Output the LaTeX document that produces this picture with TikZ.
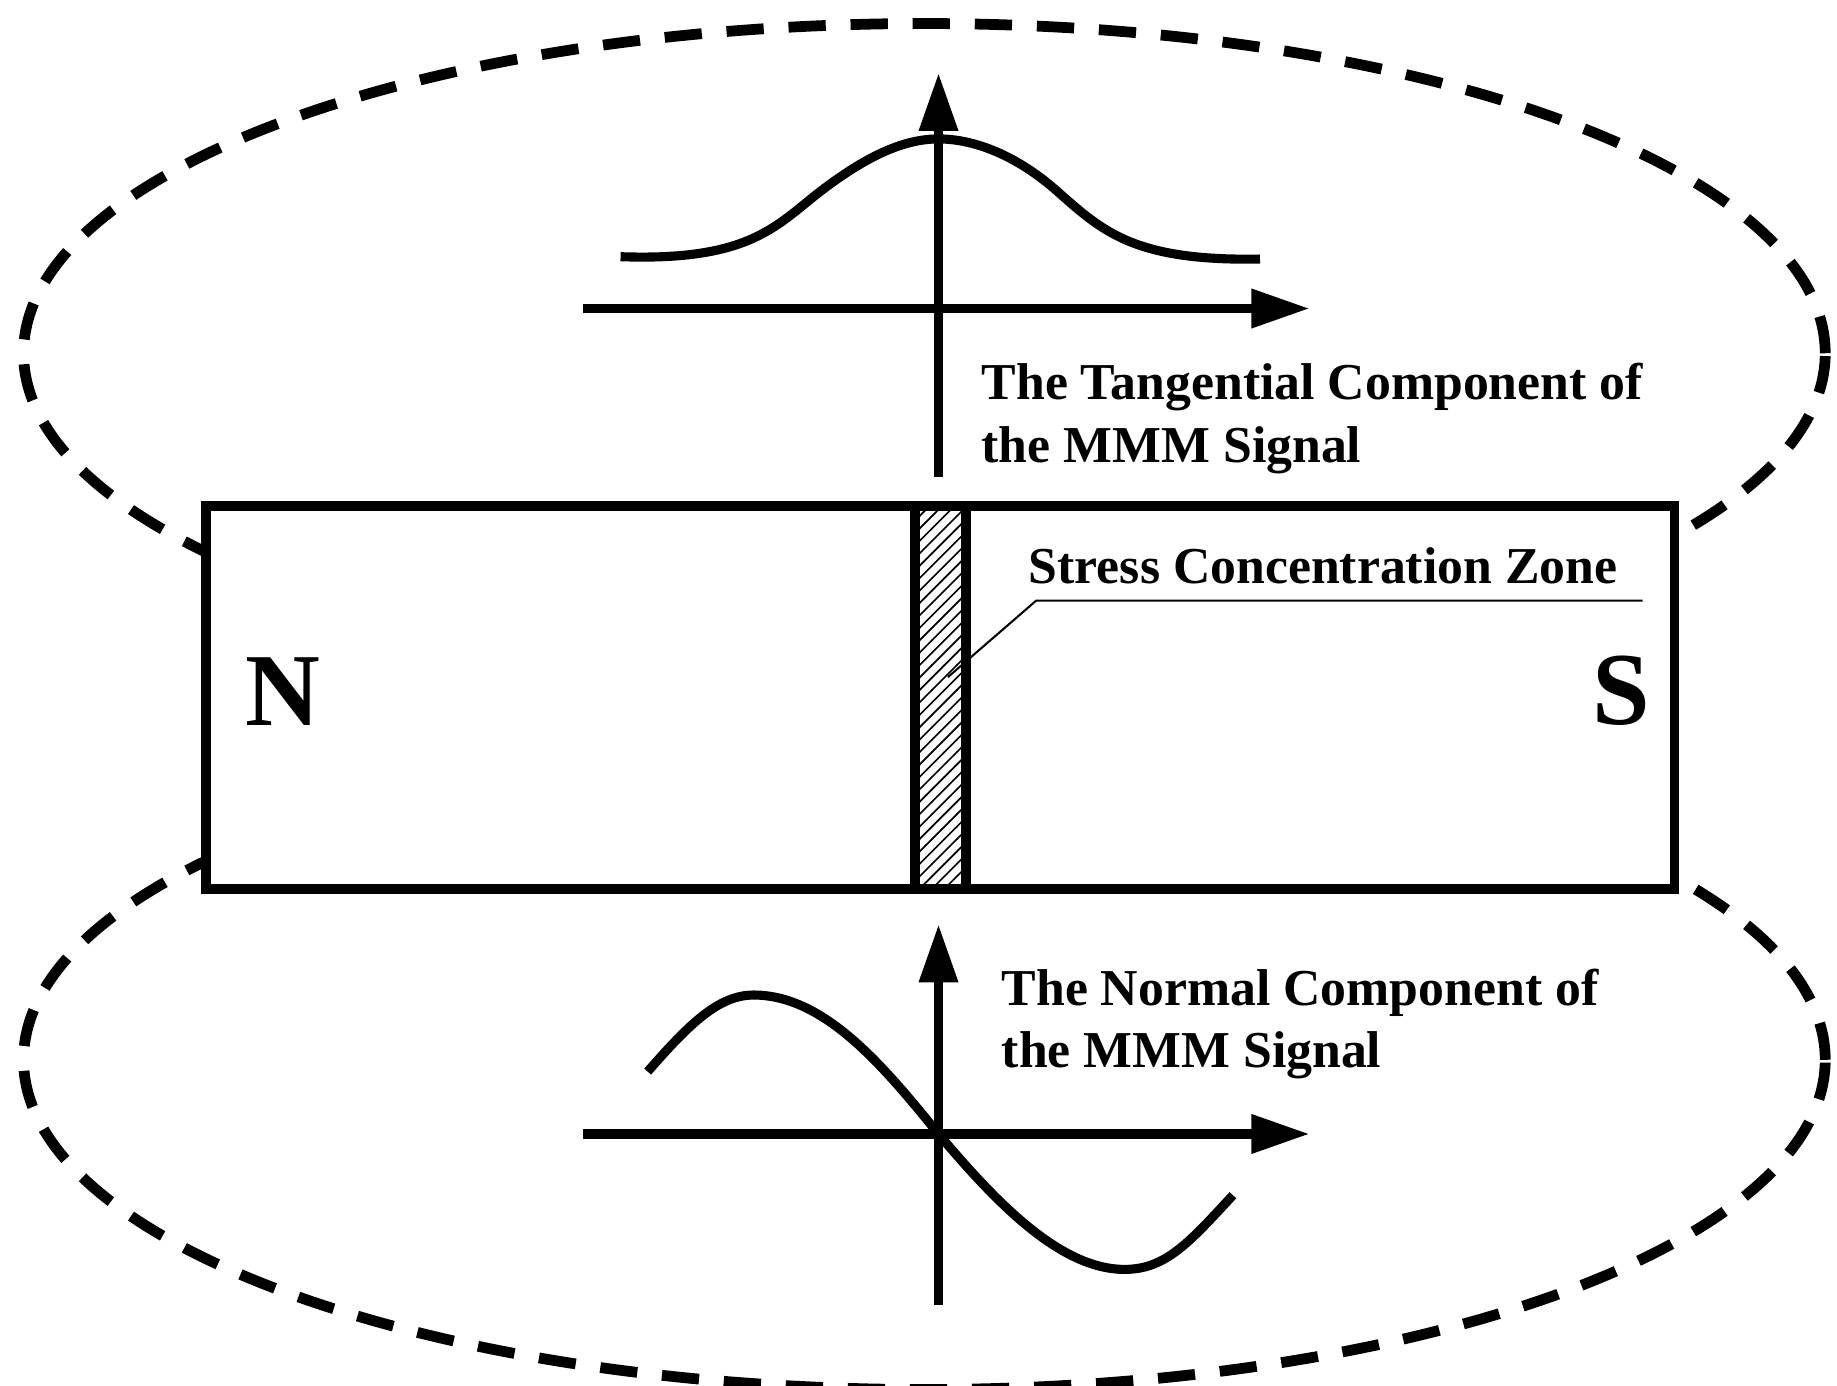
\documentclass[tikz,border=0pt]{standalone}
\usepackage{fontspec}
\setmainfont{Liberation Serif}
\usetikzlibrary{arrows.meta,patterns}
\begin{document}
\begin{tikzpicture}[x=0.01cm,y=-0.01cm,
  axis/.style={line width=2.2pt,-{Triangle[length=14pt,width=9pt]}},
  curve/.style={line width=2.2pt},
  field/.style={line width=2.6pt,dash pattern=on 9pt off 6pt},
  lbl/.style={font=\bfseries\fontsize{12.5}{15}\selectfont,align=left,anchor=north west,inner sep=0pt}]
\useasboundingbox (0,0) rectangle (1560,1177);
\draw[field] (785,300) ellipse [x radius=765,y radius=-280];
\draw[field] (785,900) ellipse [x radius=765,y radius=-280];
\draw[line width=2.4pt,fill=white] (175,430) rectangle (1422,755);
\fill[pattern=north east lines] (777,432) rectangle (820,753);
\draw[line width=2.4pt] (777,430) -- (777,755) (820,430) -- (820,755);
\node[font=\bfseries\fontsize{25}{30}\selectfont] (N) at (240,587) {N};
\node[font=\bfseries\fontsize{25}{30}\selectfont] (S) at (1377,587) {S};
% top axes
\coordinate (t0) at (797,405); \coordinate (t1) at (797,62);
\coordinate (h0) at (495,262); \coordinate (h1) at (1112,262);
\draw[axis] (t0) -- (t1);
\draw[axis] (h0) -- (h1);
\draw[curve] (527,218) .. controls (640,222) and (660,190) .. (700,160) .. controls (740,130) and (770,118) .. (797,118) .. controls (825,118) and (860,130) .. (895,160) .. controls (935,195) and (960,222) .. (1070,220);
% bottom axes
\coordinate (b0) at (797,1108); \coordinate (b1) at (797,785);
\coordinate (g0) at (495,963); \coordinate (g1) at (1112,963);
\draw[axis] (b0) -- (b1);
\draw[axis] (g0) -- (g1);
\draw[curve] (550,910) .. controls (585,870) and (610,845) .. (640,845) .. controls (700,845) and (750,905) .. (797,963) .. controls (845,1020) and (900,1078) .. (955,1078) .. controls (990,1078) and (1010,1055) .. (1047,1015);
\node[lbl] (tan) at (833,308) {The Tangential Component of\\the MMM Signal};
\node[lbl] (nor) at (850,822) {The Normal Component of\\the MMM Signal};
\node[lbl] (scz) at (873,464) {Stress Concentration Zone};
\coordinate (u0) at (880,510); \coordinate (u1) at (1395,510); \coordinate (u2) at (805,575);
\draw[line width=0.5pt] (u1) -- (u0) -- (u2);
\end{tikzpicture}
\end{document}
